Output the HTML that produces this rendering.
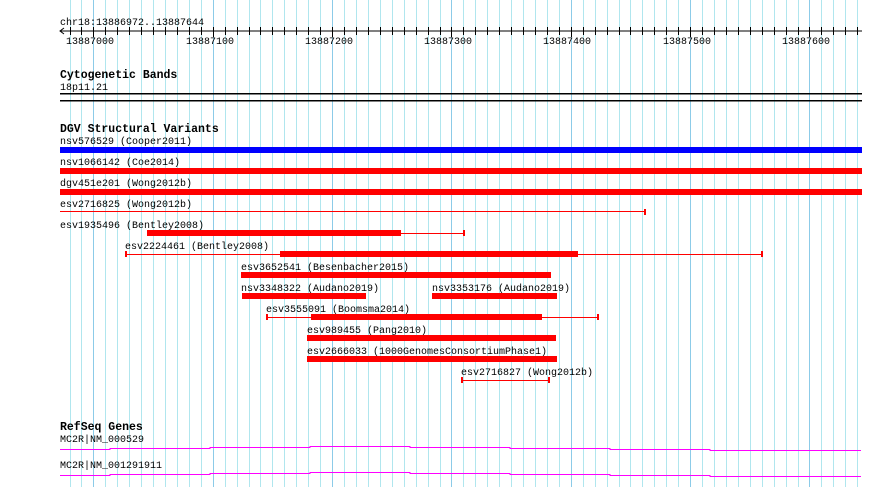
<!DOCTYPE html>
<html><head><meta charset="utf-8"><style>
html,body{margin:0;padding:0;background:#fff;width:890px;height:487px;overflow:hidden}
svg{display:block}
.m{font-family:"Liberation Mono",monospace;font-size:10px;fill:#000}
.h{font-family:"Liberation Mono",monospace;font-size:11.5px;font-weight:bold;fill:#000}
</style></head><body>
<svg id="s" width="890" height="487" xmlns="http://www.w3.org/2000/svg">
<g id="grid"></g>
<text class="m" x="60" y="25">chr18:13886972..13887644</text>
<line x1="60" y1="31" x2="862" y2="31" stroke="#000"/>
<path d="M64 28 L60 31 L64 34" fill="none" stroke="#000"/>
<g id="ticks"></g>
<text class="m" x="66" y="44">13887000</text>
<text class="m" x="186" y="44">13887100</text>
<text class="m" x="305" y="44">13887200</text>
<text class="m" x="424" y="44">13887300</text>
<text class="m" x="543" y="44">13887400</text>
<text class="m" x="663" y="44">13887500</text>
<text class="m" x="782" y="44">13887600</text>
<text class="h" x="60" y="78">Cytogenetic Bands</text>
<text class="m" x="60" y="90">18p11.21</text>
<rect x="60" y="93" width="802" height="1.5" fill="#000"/>
<rect x="60" y="100" width="802" height="1.5" fill="#000"/>
<text class="h" x="60" y="132">DGV Structural Variants</text>
<text class="m" x="60" y="144">nsv576529 (Cooper2011)</text>
<rect x="60" y="147" width="802" height="6" fill="#0000ff"/>
<text class="m" x="60" y="165">nsv1066142 (Coe2014)</text>
<rect x="60" y="168" width="802" height="6" fill="#f00"/>
<text class="m" x="60" y="186">dgv451e201 (Wong2012b)</text>
<rect x="60" y="189" width="802" height="6" fill="#f00"/>
<text class="m" x="60" y="207">esv2716825 (Wong2012b)</text>
<rect x="60" y="211" width="585" height="1" fill="#f00"/><rect x="644" y="209" width="2" height="6" fill="#f00"/>
<text class="m" x="60" y="228">esv1935496 (Bentley2008)</text>
<rect x="147" y="230" width="254" height="6" fill="#f00"/><rect x="401" y="233" width="63" height="1" fill="#f00"/><rect x="463" y="230" width="2" height="6" fill="#f00"/>
<text class="m" x="125" y="249">esv2224461 (Bentley2008)</text>
<rect x="126" y="254" width="636" height="1" fill="#f00"/><rect x="125" y="251" width="2" height="6" fill="#f00"/><rect x="761" y="251" width="2" height="6" fill="#f00"/>
<rect x="280" y="251" width="298" height="6" fill="#f00"/>
<text class="m" x="241" y="270">esv3652541 (Besenbacher2015)</text>
<rect x="241" y="272" width="310" height="6" fill="#f00"/>
<text class="m" x="241" y="291">nsv3348322 (Audano2019)</text>
<rect x="242" y="293" width="124" height="6" fill="#f00"/>
<text class="m" x="432" y="291">nsv3353176 (Audano2019)</text>
<rect x="432" y="293" width="125" height="6" fill="#f00"/>
<text class="m" x="266" y="312">esv3555091 (Boomsma2014)</text>
<rect x="267" y="317" width="331" height="1" fill="#f00"/><rect x="266" y="314" width="2" height="6" fill="#f00"/><rect x="597" y="314" width="2" height="6" fill="#f00"/>
<rect x="311" y="314" width="231" height="6" fill="#f00"/>
<text class="m" x="307" y="333">esv989455 (Pang2010)</text>
<rect x="307" y="335" width="249" height="6" fill="#f00"/>
<text class="m" x="307" y="354">esv2666033 (1000GenomesConsortiumPhase1)</text>
<rect x="307" y="356" width="250" height="6" fill="#f00"/>
<text class="m" x="461" y="375">esv2716827 (Wong2012b)</text>
<rect x="462" y="380" width="87" height="1" fill="#f00"/><rect x="461" y="377" width="2" height="6" fill="#f00"/><rect x="548" y="377" width="2" height="6" fill="#f00"/>
<text class="h" x="60" y="430">RefSeq Genes</text>
<text class="m" x="60" y="442">MC2R|NM_000529</text>
<text class="m" x="60" y="468">MC2R|NM_001291911</text>
<path d="M60 449.5H110V448.5H210V447.5H310V446.5H410V447.5H510V448.5H610V449.5H710V450.5H861" fill="none" stroke="#f0f" stroke-width="1"/>
<path d="M60 475.5H110V474.5H210V473.5H310V472.5H410V473.5H510V474.5H610V475.5H710V476.5H861" fill="none" stroke="#f0f" stroke-width="1"/>
</svg>
<script>
var ns="http://www.w3.org/2000/svg",g=document.getElementById("grid"),t=document.getElementById("ticks");
for(var bp=13886980;bp<=13887640;bp+=10){
 var x=Math.round(60+(bp-13886972)*1.1934)+0.5;
 var l=document.createElementNS(ns,"line");
 l.setAttribute("x1",x);l.setAttribute("x2",x);l.setAttribute("y1",0);l.setAttribute("y2",487);
 l.setAttribute("stroke",bp%100==0?"#8ccbe8":"#b0e6ee");g.appendChild(l);
 var k=document.createElementNS(ns,"line");
 k.setAttribute("x1",x);k.setAttribute("x2",x);k.setAttribute("y1",27);k.setAttribute("y2",bp%100==0?37:35);
 k.setAttribute("stroke","#000");t.appendChild(k);
}
</script>
</body></html>
